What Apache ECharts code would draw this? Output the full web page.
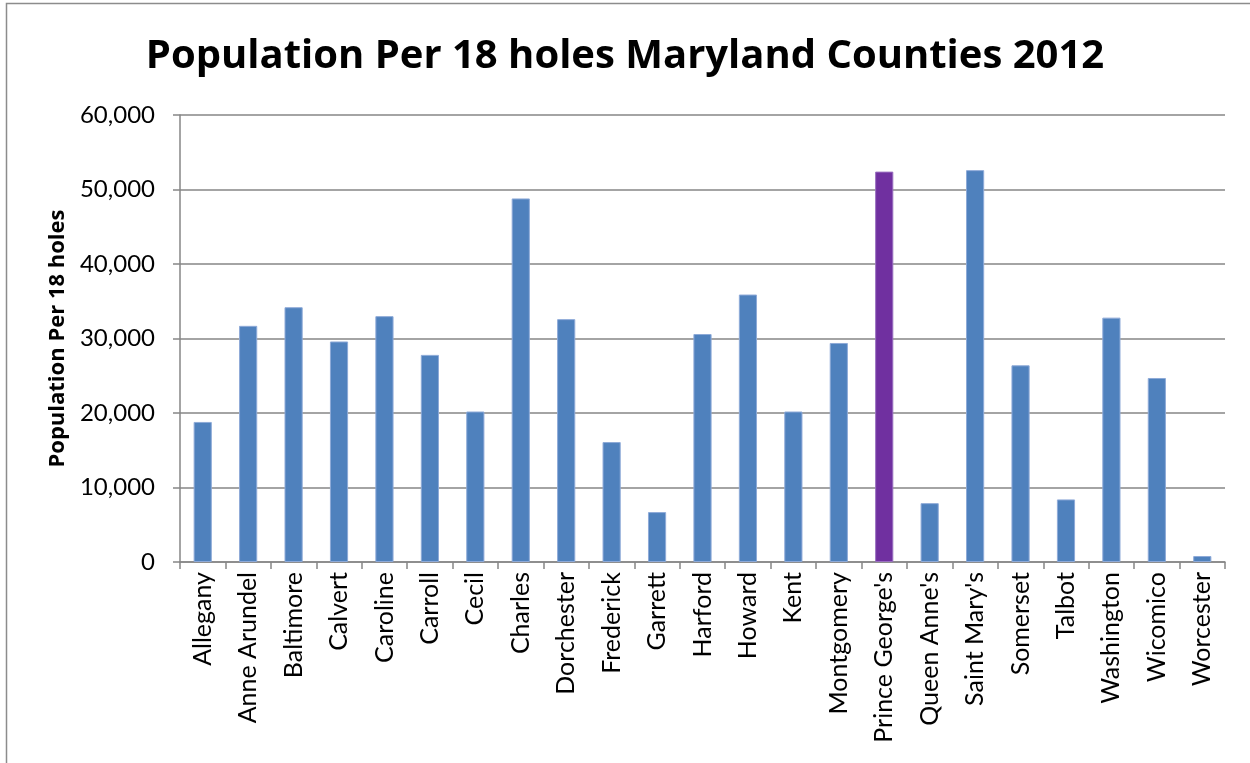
<!DOCTYPE html>
<html>
<head>
<meta charset="utf-8">
<script src="https://cdn.jsdelivr.net/npm/echarts@6/dist/echarts.min.js"></script>
<style>html,body{margin:0;padding:0;background:#fff;}#c{width:1250px;height:763px;}</style>
</head>
<body>
<div id="c"></div>
<script>
const categories = ["Allegany","Anne Arundel","Baltimore","Calvert","Caroline","Carroll","Cecil","Charles","Dorchester","Frederick","Garrett","Harford","Howard","Kent","Montgomery","Prince George's","Queen Anne's","Saint Mary's","Somerset","Talbot","Washington","Wicomico","Worcester"];
const values = [18800,31700,34200,29600,33000,27800,20200,48800,32600,16100,6700,30600,35900,20200,29400,52400,7900,52600,26400,8400,32800,24700,800];
const highlighted = "Prince George's";
const yTicks = [0,10000,20000,30000,40000,50000,60000];

const chart = echarts.init(document.getElementById('c'));
const font = "Lato, 'Open Sans', sans-serif";
const font2 = "'Open Sans', sans-serif";
chart.setOption({
  animation:false,
  title:{text:'Population Per 18 holes Maryland Counties 2012',left:'center',top:32,
    textStyle:{fontFamily:font2,fontWeight:'bold',fontSize:40,color:'#000'}},
  graphic:[{type:'rect',shape:{x:6.5,y:3.5,width:1250,height:800},style:{fill:'none',stroke:'#8c8c8c',lineWidth:1.5},z:-1}],
  grid:{left:180,right:25,top:115,bottom:201},
  xAxis:{type:'category',data:categories,
    axisLine:{lineStyle:{color:'#868686',width:1.5}},
    axisTick:{show:true,length:7,alignWithLabel:false,lineStyle:{color:'#868686',width:1.5}},
    axisLabel:{rotate:90,fontFamily:font,fontSize:25,color:'#000',margin:10,interval:0}},
  yAxis:{type:'value',min:0,max:60000,interval:10000,
    name:'Population Per 18 holes',nameLocation:'middle',nameGap:111,nameRotate:90,
    nameTextStyle:{fontFamily:font2,fontWeight:'bold',fontSize:22,color:'#000'},
    axisLine:{show:true,lineStyle:{color:'#868686',width:1.5}},
    axisTick:{show:true,length:7,lineStyle:{color:'#868686',width:1.5}},
    splitLine:{lineStyle:{color:'#868686',width:1.5}},
    axisLabel:{fontFamily:font,fontSize:24,color:'#000',margin:25,
      formatter:v=>yTicks.includes(v)?v.toLocaleString('en-US'):''}},
  series:[{type:'bar',barWidth:'40%',
    data:values.map((v,i)=>({value:v,itemStyle:{color:categories[i]===highlighted?'#7030A0':'#4F81BD',borderColor:categories[i]===highlighted?'#9a70c0':'#8eaad8',borderWidth:1}}))}]
});
</script>
</body>
</html>
